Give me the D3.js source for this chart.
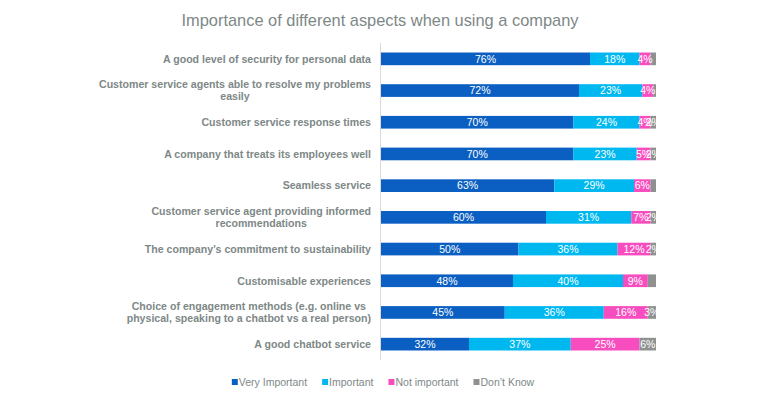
<!DOCTYPE html>
<html><head><meta charset="utf-8">
<script src="https://cdn.jsdelivr.net/npm/d3@7"></script>
<style>
body{margin:0;background:#fff;}
svg{display:block;font-family:"Liberation Sans",Arial,sans-serif;}
</style></head>
<body>
<svg id="chart" width="770" height="400"></svg>
<script>
const title = "Importance of different aspects when using a company";
const categories = [
  "A good level of security for personal data",
  "Customer service agents able to resolve my problems\neasily",
  "Customer service response times",
  "A company that treats its employees well",
  "Seamless service",
  "Customer service agent providing informed\nrecommendations",
  "The company\u2019s commitment to sustainability",
  "Customisable experiences",
  "Choice of engagement methods (e.g. online vs\nphysical, speaking to a chatbot vs a real person)",
  "A good chatbot service"
];
const seriesNames = ["Very Important", "Important", "Not important", "Don\u2019t Know"];
const veryImportant = [76, 72, 70, 70, 63, 60, 50, 48, 45, 32];
const important     = [18, 23, 24, 23, 29, 31, 36, 40, 36, 37];
const notImportant  = [4, 4, 4, 5, 6, 7, 12, 9, 16, 25];
const dontKnow      = [2, 1, 2, 2, 2, 2, 2, 3, 3, 6];
const dontKnowLabelShown = [false, false, true, true, false, true, true, false, true, true];
const colors = ["#0b5fc2", "#00b8f0", "#f84dbf", "#8e9190"];

const svg = d3.select("#chart");
const textColor = "#7e8887";

svg.append("text").attr("x", 380).attr("y", 26).attr("text-anchor", "middle")
  .attr("font-size", 16.4).attr("fill", textColor).text(title);

const x0 = 381, x1 = 656;
const x = d3.scaleLinear().domain([0, 100]).range([x0, x1]);
const y = d3.scaleBand().domain(d3.range(categories.length)).range([43, 360]).paddingInner(0.6).paddingOuter(0.3);

const seriesData = [veryImportant, important, notImportant, dontKnow];
const rows = categories.map((c, i) => {
  const vals = seriesData.map(s => s[i]);
  const total = d3.sum(vals);
  let acc = 0;
  return vals.map((v, k) => { const seg = {i, k, v, start: acc / total * 100, end: (acc + v) / total * 100}; acc += v; return seg; });
});

const g = svg.append("g");
rows.forEach(segs => {
  segs.forEach(s => {
    g.append("rect").attr("x", x(s.start)).attr("y", y(s.i))
      .attr("width", x(s.end) - x(s.start)).attr("height", y.bandwidth())
      .attr("fill", colors[s.k]);
  });
});
rows.forEach(segs => {
  segs.forEach(s => {
    if (s.k === 3 && !dontKnowLabelShown[s.i]) return;
    g.append("text").attr("x", (x(s.start) + x(s.end)) / 2).attr("y", y(s.i) + y.bandwidth() / 2)
      .attr("dy", "0.36em").attr("text-anchor", "middle").attr("font-size", 10.5)
      .attr("fill", "#fff").text(s.v + "%");
  });
});

// axis line
svg.append("line").attr("x1", 380.5).attr("x2", 380.5).attr("y1", 43).attr("y2", 360)
  .attr("stroke", "#d9d9d9").attr("stroke-width", 1);

// category labels
const lab = svg.append("g");
categories.forEach((c, i) => {
  const lines = c.split("\n");
  const cy = y(i) + y.bandwidth() / 2;
  const t = lab.append("text").attr("font-size", 10.6).attr("font-weight", "bold").attr("fill", textColor);
  const lh = 12;
  const spans = lines.map((ln, j) => t.append("tspan").attr("y", cy + (j - (lines.length - 1) / 2) * lh).attr("dy", "0.36em").text(ln));
  const widths = spans.map(s => s.node().getComputedTextLength());
  const maxW = d3.max(widths);
  const cx = 371 - maxW / 2;
  spans.forEach((s, j) => s.attr("x", cx).attr("text-anchor", "middle"));
});

// legend
const leg = svg.append("g");
let lx = 0;
seriesNames.forEach((n, k) => {
  const gi = leg.append("g");
  gi.append("rect").attr("x", 0).attr("y", -3).attr("width", 6).attr("height", 6).attr("fill", colors[k]);
  const t = gi.append("text").attr("x", 7).attr("y", 0).attr("dy", "0.36em").attr("font-size", 10.5).attr("fill", textColor).text(n);
  const w = 7 + t.node().getComputedTextLength();
  gi.attr("transform", `translate(${lx},0)`);
  lx += w + 15;
});
const totalW = lx - 15;
leg.attr("transform", `translate(${383 - totalW / 2},382)`);
</script>
</body></html>
